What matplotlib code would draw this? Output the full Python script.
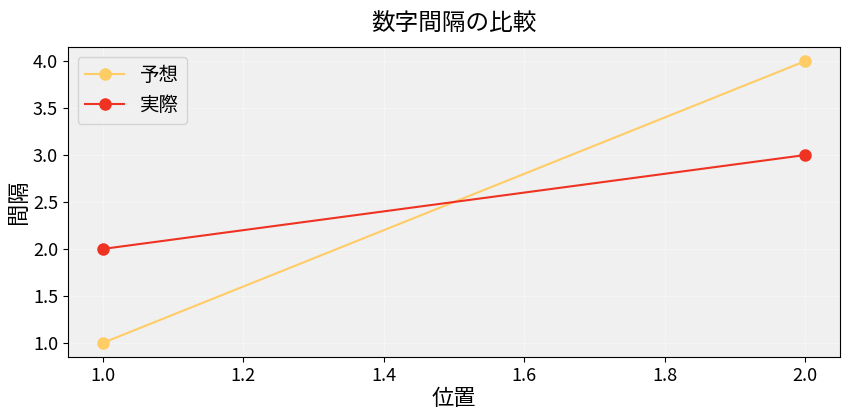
import matplotlib; matplotlib.use("Agg")
import matplotlib.pyplot as plt

plt.rcParams['font.family'] = ['Noto Sans CJK JP', 'DejaVu Sans']

positions = [1, 2]
expected = [1, 4]
actual = [2, 3]

fig = plt.figure(figsize=(8.48, 4.16), dpi=100)
ax = fig.add_axes([0.080, 0.142, 0.911, 0.745])
ax.set_facecolor("#f0f0f0")
ax.grid(True, color="white", lw=0.8, alpha=0.35)
ax.set_axisbelow(True)

ax.plot(positions, expected, "-o", color="#ffcc66", lw=1.5, ms=8, label="予想")
ax.plot(positions, actual, "-o", color="#ee3322", lw=1.5, ms=8, label="実際")

ax.set_title("数字間隔の比較", fontsize=17, pad=12)
ax.set_xlabel("位置", fontsize=16, labelpad=2)
ax.set_ylabel("間隔", fontsize=16, labelpad=2)
ax.tick_params(labelsize=13)
ax.set_xticks([1.0, 1.2, 1.4, 1.6, 1.8, 2.0])
ax.set_yticks([1.0, 1.5, 2.0, 2.5, 3.0, 3.5, 4.0])
ax.set_xlim(0.95, 2.05)
ax.set_ylim(0.85, 4.15)
ax.legend(fontsize=14, loc="upper left", facecolor="#f0f0f0")

plt.savefig("out.png", dpi=100)
